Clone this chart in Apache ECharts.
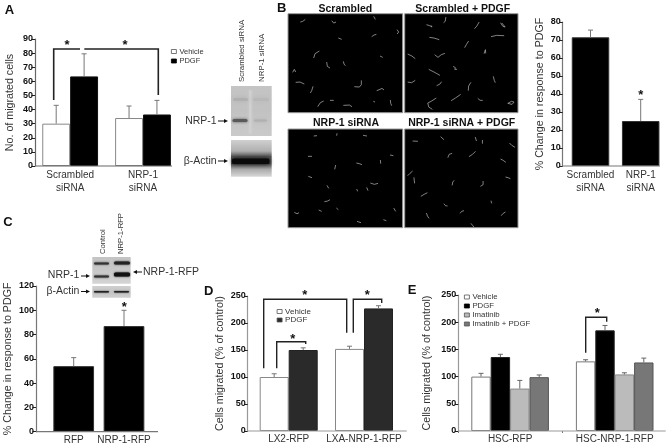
<!DOCTYPE html>
<html><head><meta charset="utf-8">
<style>html,body{margin:0;padding:0;background:#fff}#c{width:667px;height:447px;filter:blur(0.4px)}</style>
<script src="https://cdn.jsdelivr.net/npm/echarts@6/dist/echarts.min.js"></script>
</head><body><div id="c"></div>
<script>
// Panel A
const aCats = ['Scrambled\nsiRNA', 'NRP-1\nsiRNA'];
const aVehicle = [30, 34];
const aVehicleHi = [43, 42.5];
const aPdgf = [63.5, 36.5];
const aPdgfHi = [79.5, 46.5];
// Panel B chart
const bCats = ['Scrambled\nsiRNA', 'NRP-1\nsiRNA'];
const bChange = [71.5, 25];
const bChangeHi = [75.5, 37];
// Panel C
const cCats = ['RFP', 'NRP-1-RFP'];
const cChange = [54, 87];
const cChangeHi = [61, 100];
// Panel D
const dCats = ['LX2-RFP', 'LXA-NRP-1-RFP'];
const dVehicle = [100, 152];
const dVehicleHi = [106, 157];
const dPdgf = [150, 227];
const dPdgfHi = [154, 232];
// Panel E
const eCats = ['HSC-RFP', 'HSC-NRP-1-RFP'];
const eVehicle = [100, 128];
const eVehicleHi = [106, 131];
const ePdgf = [136, 185];
const ePdgfHi = [141, 194];
const eImatinib = [78, 104];
const eImatinibHi = [93, 107];
const eBoth = [99, 126];
const eBothHi = [103, 134];
// Micrographs: cell traces in image units
const imgScrambled = [[43,30,50,28,58,22],[137,26,143,33,150,30],[263,13,268,22],[257,74,264,69,271,67],[333,53,338,60,333,66],[157,78,167,82],[83,138,87,125,100,117],[282,132,290,136],[122,150,124,163,132,168],[172,148,174,156,178,161],[20,181,25,172,29,180],[29,211,42,210,55,216],[205,224,220,225,226,218,226,205],[272,236,282,232,288,229,294,234],[81,223,77,236,73,243],[95,284,103,272,113,267],[132,265,143,265],[172,280,190,279,198,284],[262,268,267,270],[313,264,314,274,317,281]];
const imgScrambledPdgf = [[72,38,82,41,89,45,86,40],[131,15,129,28,124,32],[218,50,225,42,232,30],[297,32,304,43,311,45,301,33],[81,76,95,78,111,83],[268,74,285,70,308,71],[188,107,193,98,200,87],[247,125,251,113,252,124],[15,126,28,132,38,140],[97,128,107,136,117,128,128,124],[153,163,160,167,158,172,165,172],[79,172,95,180,113,190],[15,210,27,212,38,205],[103,221,113,216,118,209],[275,193,278,205,281,212],[207,211,200,222,199,236],[147,266,160,258,176,247],[228,259,235,265,243,265],[319,274,330,268,338,270,332,277,319,274],[102,258,86,268,76,273,79,285,90,292]];
const imgSirna = [[83,30,93,29],[153,22,152,29],[231,28,243,30],[66,91,78,91],[312,87,322,89],[283,102,284,113],[149,117,146,130],[211,111,220,113,228,116],[67,151,78,155],[123,178,128,187],[253,171,265,175,276,172],[212,189,215,196],[242,184,246,194],[115,227,125,225,132,221],[98,252,107,256],[151,246,157,251],[25,259,33,263,39,260],[323,246,329,256],[213,286,225,290],[292,281,301,284]];
const imgSirnaPdgf = [[30,45,46,46],[115,32,125,41],[220,33,224,45],[242,42,242,53],[324,51,331,58,341,64],[137,95,141,85,150,82],[201,92,212,85,221,76],[297,99,305,103,313,109],[15,149,22,142,30,135],[34,154,36,172],[150,178,152,168,156,163],[312,153,320,155,327,158],[236,181,244,176,244,165],[55,211,65,205,75,200],[125,233,130,239,136,240],[268,224,270,232],[174,262,179,256,186,254],[299,269,305,262,312,258],[72,261,75,270,80,277],[207,292,212,298,216,303]];

const FONT = '"Liberation Sans", Arial, sans-serif';
const TXT = '#333';
const grids = [], xAxes = [], yAxes = [], series = [], legends = [], gfx = [];

function panel(p) {
  const spacing = p.centers[1] - p.centers[0];
  const left = p.centers[0] - spacing / 2;
  const gi = grids.length;
  grids.push({left, width: spacing * 2, top: p.yTop, height: p.yBottom - p.yTop});
  xAxes.push({gridIndex: gi, type: 'category', data: p.cats,
    axisLine: {show: false},
    axisTick: {show: !!p.xTick, length: 2, lineStyle: {color: '#777'}},
    axisLabel: {color: TXT, fontFamily: FONT, fontSize: 10, margin: p.labelMargin || 3, lineHeight: 13, interval: 0}});
  yAxes.push({gridIndex: gi, type: 'value', min: 0, max: p.max, interval: p.step,
    offset: left - p.axisX, splitLine: {show: false},
    axisLine: {show: true, lineStyle: {color: p.axisColor, width: 1.2}},
    axisTick: {show: true, length: 3.5, lineStyle: {color: '#222', width: 1}},
    axisLabel: {color: '#111', fontFamily: FONT, fontWeight: 'bold', fontSize: 9, margin: 2},
    name: p.yName, nameLocation: 'middle', nameGap: p.nameGap,
    nameTextStyle: {color: TXT, fontFamily: FONT, fontSize: p.nameSize || 10.7}});
  const n = p.bars.length;
  p.bars.forEach((b, i) => {
    series.push({type: 'bar', name: b.name, xAxisIndex: gi, yAxisIndex: gi, data: b.values,
      barWidth: p.barWidth, barGap: '0%', z: 2,
      itemStyle: {color: b.color, borderColor: b.border, borderWidth: 1}});
    const off = (i - (n - 1) / 2) * p.barWidth;
    series.push({type: 'custom', name: b.name + ' error', xAxisIndex: gi, yAxisIndex: gi, z: 3,
      data: b.hi.map((h, k) => [k, b.values[k], h]),
      renderItem(params, api) {
        const top = api.coord([api.value(0), api.value(2)]);
        const base = api.coord([api.value(0), api.value(1)]);
        const x = top[0] + off;
        const st = {stroke: p.errColor, lineWidth: 1, fill: null};
        return {type: 'group', children: [
          {type: 'line', shape: {x1: x, y1: base[1], x2: x, y2: top[1]}, style: st},
          {type: 'line', shape: {x1: x - 2.5, y1: top[1], x2: x + 2.5, y2: top[1]}, style: st}
        ]};
      }});
  });
  gfx.push({type: 'line', shape: {x1: p.axisX, y1: p.yBottom, x2: p.xEnd, y2: p.yBottom},
    style: {stroke: p.axisColor, lineWidth: 1.2}, z: 5});
  if (p.legend) {
    legends.push({orient: 'vertical', left: p.legend.left, top: p.legend.top, itemWidth: p.legend.size, itemHeight: p.legend.size - 1,
      itemGap: p.legend.gap, selectedMode: false, padding: 0, icon: 'rect', textStyle: {color: TXT, fontFamily: FONT, fontSize: p.legend.font, padding: [0, 0, 0, -2]},
      data: p.bars.map(b => ({name: b.name, icon: 'rect', itemStyle: {color: b.color, borderColor: b.color === '#000' ? '#000' : '#555', borderWidth: 0.8}}))});
  }
}
function micrograph(traces, left, top, width, height, yMin, yMax) {
  const gi = grids.length;
  grids.push({left, top, width, height, show: true, backgroundColor: '#000', borderColor: '#999', borderWidth: 1});
  xAxes.push({gridIndex: gi, type: 'value', min: 6, max: 350, show: false});
  yAxes.push({gridIndex: gi, type: 'value', min: yMin, max: yMax, inverse: true, show: false});
  series.push({type: 'lines', coordinateSystem: 'cartesian2d', polyline: true, xAxisIndex: gi, yAxisIndex: gi, z: 2, silent: true,
    lineStyle: {color: '#b8b8b8', width: 0.7, opacity: 1},
    data: traces.map(t => { const c = []; for (let i = 0; i < t.length; i += 2) c.push([t[i], t[i + 1]]); return {coords: c}; })});
}

panel({cats: aCats, centers: [70.15, 143], axisX: 35, xEnd: 172, yTop: 39, yBottom: 166, max: 90, step: 10,
  barWidth: 27.9, yName: 'No. of migrated cells', nameGap: 19, axisColor: '#666', errColor: '#777',
  bars: [{name: 'Vehicle', values: aVehicle, hi: aVehicleHi, color: '#fff', border: '#888'},
         {name: 'PDGF', values: aPdgf, hi: aPdgfHi, color: '#000', border: '#111'}],
  legend: {left: 171, top: 47.5, size: 5, gap: 1.5, font: 7.5}});
panel({cats: bCats, centers: [590.5, 640.7], axisX: 562.7, xEnd: 660, yTop: 22, yBottom: 166, max: 80, step: 10,
  barWidth: 37.5, yName: '% Change in response to PDGF', nameGap: 17, axisColor: '#777', errColor: '#777',
  bars: [{name: 'Change B', values: bChange, hi: bChangeHi, color: '#000', border: '#333'}]});
panel({cats: cCats, centers: [73.7, 124], axisX: 36, xEnd: 158, yTop: 286, yBottom: 431.7, max: 120, step: 20,
  barWidth: 40.7, yName: '% Change in response to PDGF', nameGap: 22, axisColor: '#777', errColor: '#777', labelMargin: 2,
  bars: [{name: 'Change C', values: cChange, hi: cChangeHi, color: '#000', border: '#333'}]});
panel({cats: dCats, centers: [288.7, 364], axisX: 247.7, xEnd: 406.7, yTop: 296, yBottom: 431, max: 250, step: 50,
  barWidth: 29, yName: 'Cells migrated (% of control)', nameGap: 22, axisColor: '#999', errColor: '#777', labelMargin: 2,
  bars: [{name: 'Vehicle', values: dVehicle, hi: dVehicleHi, color: '#fff', border: '#888'},
         {name: 'PDGF', values: dPdgf, hi: dPdgfHi, color: '#2a2a2a', border: '#222'}],
  legend: {left: 276.7, top: 307.5, size: 5, gap: 0.5, font: 8}});
panel({cats: eCats, centers: [510.6, 616.2], axisX: 458.3, xEnd: 665.7, yTop: 295, yBottom: 431, max: 250, step: 50,
  barWidth: 19.4, yName: 'Cells migrated (% of control)', nameGap: 26, axisColor: '#999', errColor: '#666', labelMargin: 2, xTick: true,
  bars: [{name: 'Vehicle', values: eVehicle, hi: eVehicleHi, color: '#fff', border: '#777'},
         {name: 'PDGF', values: ePdgf, hi: ePdgfHi, color: '#000', border: '#222'},
         {name: 'Imatinib', values: eImatinib, hi: eImatinibHi, color: '#bbb', border: '#888'},
         {name: 'Imatinib + PDGF', values: eBoth, hi: eBothHi, color: '#777', border: '#555'}],
  legend: {left: 464, top: 293, size: 5, gap: 1, font: 7.8}});

micrograph(imgScrambled, 288, 13.7, 114.7, 99, 5, 302);
micrograph(imgScrambledPdgf, 404.7, 13.7, 113.3, 99, 5, 302);
micrograph(imgSirna, 288, 129, 114.7, 98.7, 9, 305);
micrograph(imgSirnaPdgf, 404.7, 129, 113.3, 98.7, 9, 305);

// Text and annotation helpers
function text(t, x, y, size, opt) {
  opt = opt || {};
  gfx.push({type: 'text', x, y, rotation: opt.rot || 0, z: 10, style: {text: t, fill: opt.fill || TXT,
    font: (opt.bold ? 'bold ' : '') + size + 'px ' + FONT, textAlign: opt.align || 'center', textVerticalAlign: 'middle'}});
}
function path(points, width, color) {
  gfx.push({type: 'polyline', z: 9, shape: {points}, style: {stroke: color || '#222', lineWidth: width || 1.5, fill: null}});
}
function arrow(x1, x2, y) {
  const d = x2 > x1 ? 1 : -1;
  gfx.push({type: 'line', z: 9, shape: {x1, y1: y, x2: x2 - d * 3, y2: y}, style: {stroke: '#111', lineWidth: 1}});
  gfx.push({type: 'polygon', z: 9, shape: {points: [[x2, y], [x2 - d * 4, y - 2], [x2 - d * 4, y + 2]]}, style: {fill: '#111'}});
}
function star(x, y) { text('*', x, y + 2, 13, {bold: true, fill: '#111'}); }
function blot(x, y, w, h, stops, bands) {
  gfx.push({type: 'rect', z: 8, shape: {x, y, width: w, height: h},
    style: {fill: new echarts.graphic.LinearGradient(0, 0, 0, 1, stops.map(s => ({offset: s[0], color: s[1]})))}});
  bands.forEach(b => gfx.push({type: 'rect', z: 8, shape: {x: b[0], y: b[1], width: b[2], height: b[3], r: 1.5},
    style: {fill: b[4], shadowBlur: b[5], shadowColor: b[4]}}));
}

[['A',9.5,10],['B',281.7,8.5],['C',8,222],['D',208.7,291.3],['E',412,290.5]].forEach(l => text(l[0], l[1], l[2], 13, {bold: true, fill: '#111'}));
[['Scrambled',345.3,8.7],['Scrambled + PDGF',462.7,8.7],['NRP-1 siRNA',346,122.7],['NRP-1 siRNA + PDGF',461.7,122.7]].forEach(l => text(l[0], l[1], l[2], 10.5, {bold: true, fill: '#111'}));

// Panel A annotations
path([[53.7,100],[53.7,49],[80,49]], 1.6);
path([[84.3,49],[158.3,49],[158.3,95]], 1.6);
star(67, 43); star(125, 43);
// Panel A blots
blot(231, 86, 40.7, 50, [[0,'#c4c4c4'],[.5,'#c2c2c2'],[1,'#cacaca']], [[249,90,2.5,44,'#d0d0d0',3],[233,98,15,3,'#b0b0b0',4],[253,98,16,3,'#b8b8b8',4],[232.5,119,15,3,'#5a5a5a',3],[254,119.5,13,2,'#b0b0b0',3]]);
blot(231, 140, 40.7, 36.7, [[0,'#d0d0d0'],[.3,'#b0b0b0'],[.45,'#555'],[.65,'#555'],[.8,'#aaa'],[1,'#d8d8d8']], [[232,158.5,37.5,5.5,'#0a0a0a',4]]);
text('NRP-1', 216.7, 121, 10.5, {align: 'right'}); arrow(218, 228, 121);
text('β-Actin', 216.7, 161, 10.5, {align: 'right'}); arrow(218, 228, 161);
text('Scrambled siRNA', 242, 82, 7.9, {rot: Math.PI / 2, align: 'left'});
text('NRP-1 siRNA', 262, 82, 7.9, {rot: Math.PI / 2, align: 'left'});
// Panel B / C stars
star(640.7, 93); star(124.3, 305);
// Panel C blots
blot(92.3, 257, 38.4, 26.7, [[0,'#c4c4c4'],[.5,'#c8c8c8'],[1,'#d4d4d4']], [[94,262.5,15,2,'#333',2],[114,261.5,16,3,'#222',2],[94,275.5,15,2,'#333',2],[114,272.5,16,4,'#111',2]]);
blot(92.3, 286, 38.4, 11.7, [[0,'#d0d0d0'],[.5,'#c4c4c4'],[1,'#d0d0d0']], [[94,291,15,1.6,'#222',1.5],[114,291,15,1.6,'#222',1.5]]);
text('NRP-1', 79.3, 275.5, 10.5, {align: 'right'}); arrow(81, 90, 276);
text('β-Actin', 79.3, 291, 10.5, {align: 'right'}); arrow(81, 90, 291.5);
text('NRP-1-RFP', 143, 272, 10.5, {align: 'left'}); arrow(142, 133, 272);
text('Control', 103, 254, 7.7, {rot: Math.PI / 2, align: 'left'});
text('NRP-1-RFP', 121, 254, 7.7, {rot: Math.PI / 2, align: 'left'});
// Panel D annotations
path([[263.7,368.3],[263.7,299.3],[346.7,299.3],[346.7,332.7]], 1.4);
path([[353.3,332.7],[353.3,299.3],[381.7,299.3],[381.7,303]], 1.4);
path([[276.7,368.3],[276.7,341.7],[305.7,341.7],[305.7,344]], 1.4);
star(304.7, 293); star(367.3, 293); star(292.7, 337);
// Panel E annotations
path([[585.7,352.7],[585.7,317.3],[606.7,317.3],[606.7,321.7]], 1.4);
star(597.3, 311);

const chart = echarts.init(document.getElementById('c'), null, {renderer: 'canvas'});
chart.setOption({animation: false, backgroundColor: '#fff', tooltip: {show: false},
  grid: grids, xAxis: xAxes, yAxis: yAxes, series, legend: legends, graphic: {elements: gfx}});
</script></body></html>
